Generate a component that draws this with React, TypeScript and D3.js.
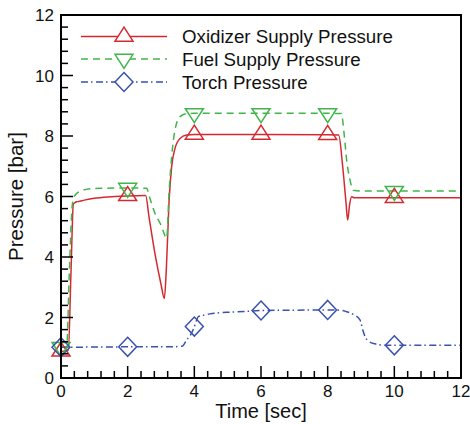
import React from "react";
import * as d3 from "d3";

// ---- data ----
const oxTime = [0, 0.22, 0.3, 0.37, 0.42, 0.5, 0.7, 1.0, 1.5, 2.0, 2.54, 2.64, 2.82, 3.0, 3.1, 3.16, 3.24, 3.32, 3.42, 3.57, 3.77, 4.0, 6.0, 8.0, 8.33, 8.45, 8.55, 8.6, 8.66, 8.72, 8.8, 10, 12];
const oxValue = [0.88, 0.92, 3.5, 5.75, 5.8, 5.83, 5.88, 5.94, 5.99, 6.02, 6.03, 5.33, 4.1, 3.1, 2.63, 3.6, 5.8, 6.99, 7.59, 7.92, 8.03, 8.05, 8.05, 8.04, 8.03, 7.0, 5.8, 5.22, 5.75, 5.99, 5.96, 5.96, 5.96];

const fuelTime = [0, 0.17, 0.25, 0.33, 0.37, 0.47, 0.6, 0.82, 1.2, 2.0, 2.57, 2.65, 2.82, 3.02, 3.12, 3.17, 3.24, 3.32, 3.42, 3.57, 3.77, 4.0, 6.0, 8.0, 8.41, 8.5, 8.57, 8.66, 8.77, 9.0, 12];
const fuelValue = [1.02, 1.03, 3.5, 5.6, 5.94, 6.1, 6.18, 6.25, 6.27, 6.28, 6.27, 6.0, 5.44, 5.0, 4.7, 4.62, 6.1, 7.32, 8.2, 8.64, 8.74, 8.75, 8.75, 8.75, 8.74, 8.0, 7.2, 6.6, 6.21, 6.18, 6.18];

const torchTime = [0, 0.5, 2.0, 3.0, 3.55, 3.65, 3.77, 3.9, 3.97, 4.05, 4.12, 4.3, 4.47, 4.97, 5.5, 5.97, 7.0, 7.97, 8.4, 8.57, 8.77, 8.97, 9.05, 9.12, 9.25, 9.42, 9.7, 10, 12];
const torchValue = [1.02, 1.02, 1.03, 1.03, 1.04, 1.06, 1.26, 1.45, 1.61, 1.85, 2.03, 2.08, 2.12, 2.17, 2.2, 2.23, 2.24, 2.25, 2.24, 2.19, 2.1, 1.92, 1.6, 1.37, 1.2, 1.13, 1.08, 1.08, 1.08];

const markerTimes = [0, 2, 4, 6, 8, 10];
const seriesNames = ["Oxidizer Supply Pressure", "Fuel Supply Pressure", "Torch Pressure"];
const xTicks = [0, 2, 4, 6, 8, 10, 12];
const yTicks = [0, 2, 4, 6, 8, 10, 12];
const xLabel = "Time [sec]";
const yLabel = "Pressure [bar]";

const W = 470;
const H = 424;
const left = 61, right = 461, top = 15, bottom = 378;

const x = d3.scaleLinear().domain([0, 12]).range([left, right]);
const y = d3.scaleLinear().domain([0, 12]).range([bottom, top]);

const FONT = "Arial, 'Liberation Sans', Helvetica, sans-serif";

type Marker = "up" | "down" | "diamond";

function markerPath(kind: Marker, cx: number, cy: number): string {
  const hw = 9;
  if (kind === "up") {
    const h = 14;
    return `M${cx},${cy - (2 * h) / 3}L${cx + hw},${cy + h / 3}L${cx - hw},${cy + h / 3}Z`;
  }
  if (kind === "down") {
    const h = 14;
    return `M${cx},${cy + (2 * h) / 3}L${cx + hw},${cy - h / 3}L${cx - hw},${cy - h / 3}Z`;
  }
  return `M${cx},${cy - 9.5}L${cx + 9},${cy}L${cx},${cy + 9.5}L${cx - 9},${cy}Z`;
}

const series = [
  { name: seriesNames[0], t: oxTime, v: oxValue, color: "#d42a2f", dash: "none", marker: "up" as Marker },
  { name: seriesNames[1], t: fuelTime, v: fuelValue, color: "#40b54b", dash: "7,5", marker: "down" as Marker },
  { name: seriesNames[2], t: torchTime, v: torchValue, color: "#3a52ad", dash: "7,3,1.5,3.5", marker: "diamond" as Marker },
];

export default function App() {
  const line = d3
    .line<[number, number]>()
    .x((d) => x(d[0]))
    .y((d) => y(d[1]))
    .curve(d3.curveMonotoneX);

  const xMinor = d3.range(0, 12.001, 0.4);
  const yMinor = d3.range(0, 12.001, 0.4);

  const legendY = [36.5, 59, 82];

  return (
    <svg
      width={W}
      height={H}
      style={{ position: "absolute", left: 0, top: 0, background: "#fff" }}
      fontFamily={FONT}
    >
      <rect x={0} y={0} width={W} height={H} fill="#fff" />
      {series.map((s) => {
        const pts = s.t.map((t, i) => [t, s.v[i]] as [number, number]);
        return (
          <path
            key={s.name}
            d={line(pts) || ""}
            fill="none"
            stroke={s.color}
            strokeWidth={1.5}
            strokeDasharray={s.dash}
          />
        );
      })}
      {series.map((s) => {
        const interp = d3.scaleLinear().domain(s.t).range(s.v);
        return markerTimes.map((mt) => (
          <path
            key={s.name + mt}
            d={markerPath(s.marker, x(mt), y(interp(mt)))}
            fill="none"
            stroke={s.color}
            strokeWidth={1.5}
          />
        ));
      })}
      {series.map((s, i) => (
        <g key={"lg" + i}>
          <line x1={81} x2={167} y1={legendY[i]} y2={legendY[i]} stroke={s.color} strokeWidth={1.5} strokeDasharray={s.dash} />
          <path d={markerPath(s.marker, 124, legendY[i])} fill="#fff" stroke={s.color} strokeWidth={1.5} />
          <text x={182} y={legendY[i] + 6.5} fontSize={18.7} fill="#111">
            {s.name}
          </text>
        </g>
      ))}
      {xMinor.map((t, i) => (
        <line key={"xm" + i} x1={x(t)} x2={x(t)} y1={bottom} y2={bottom - (Math.abs(t / 2 - Math.round(t / 2)) < 1e-6 ? 12 : 7)} stroke="#000" strokeWidth={1.5} />
      ))}
      {yMinor.map((t, i) => (
        <line key={"ym" + i} y1={y(t)} y2={y(t)} x1={left} x2={left + (Math.abs(t / 2 - Math.round(t / 2)) < 1e-6 ? 12 : 7)} stroke="#000" strokeWidth={1.5} />
      ))}
      <rect x={left} y={top} width={right - left} height={bottom - top} fill="none" stroke="#000" strokeWidth={2} />
      {xTicks.map((t) => (
        <text key={"xl" + t} x={x(t)} y={397} textAnchor="middle" fontSize={17} fill="#111">
          {t}
        </text>
      ))}
      {yTicks.map((t) => (
        <text key={"yl" + t} x={54} y={y(t) + 6} textAnchor="end" fontSize={17} fill="#111">
          {t}
        </text>
      ))}
      <text x={(left + right) / 2} y={418} textAnchor="middle" fontSize={20} fill="#111">
        {xLabel}
      </text>
      <text transform={`translate(23,196.5) rotate(-90)`} textAnchor="middle" fontSize={20.5} fill="#111">
        {yLabel}
      </text>
    </svg>
  );
}
